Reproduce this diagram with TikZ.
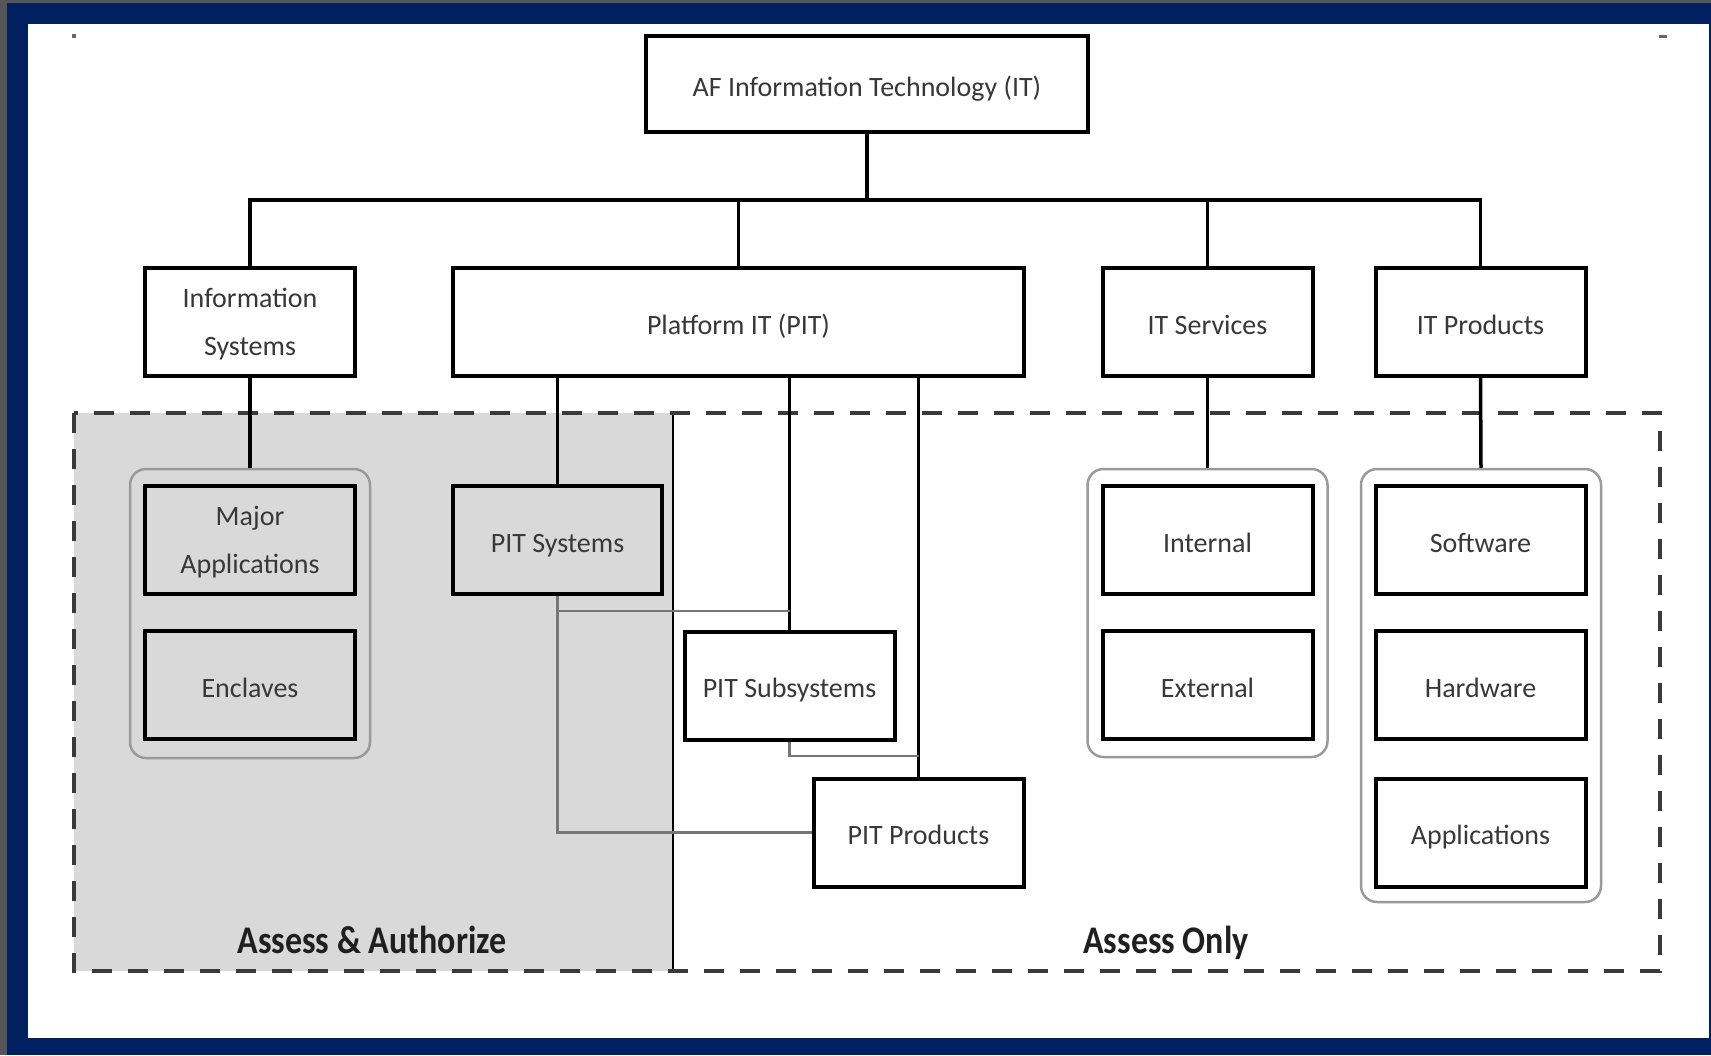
\documentclass[tikz,border=0pt]{standalone}
\usepackage{fontspec}
\setmainfont{Carlito}
\definecolor{navy}{HTML}{002060}
\definecolor{strip}{HTML}{555555}
\definecolor{regiongray}{HTML}{D9D9D9}
\definecolor{txtgray}{HTML}{383838}
\definecolor{thingray}{HTML}{767676}
\definecolor{contgray}{HTML}{9A9A9A}
\definecolor{dashgray}{HTML}{3A3A3A}
\begin{document}
\begin{tikzpicture}[x=1pt,y=-1pt,
  box/.style={draw=black, line width=4pt, minimum width=210pt, minimum height=108pt,
    inner sep=0pt, font=\fontsize{28}{48}\selectfont, text=txtgray, align=center},
  onebox/.style={box, text height=24pt, text depth=0pt},
  twobox/.style={box, yshift=0pt},
  cont/.style={draw=contgray, line width=2.5pt, rounded corners=16pt, minimum width=240pt, inner sep=0pt},
  conn/.style={draw=black, line width=3.5pt},
  thinconn/.style={draw=thingray, line width=2.5pt},
  zonelabel/.style={font=\fontsize{34}{40}\selectfont\bfseries, text=black!88, anchor=base}]
\useasboundingbox (0,0) rectangle (1711,1055);
% frame
\fill[navy] (0,0) rectangle (1711,1055);
\fill[strip] (0,0) rectangle (7,1055);
\fill[strip] (0,0) rectangle (1711,3);
\fill[white] (28,24) rectangle (1709,1038);
\fill[black!60] (72,34) rectangle (76,38);
\fill[black!60] (1659,35) rectangle (1667,38);
% zones
\fill[regiongray] (74,413) rectangle (673,971);
\draw[line width=2.5pt] (673,413) -- (673,971);
\draw[dashgray, line width=4pt, dash pattern=on 20pt off 16pt] (74,413) rectangle (1660,971);
% containers
\node[cont, minimum height=289pt] (contA) at (250,613.5) {};
\node[cont, minimum height=288pt] (contB) at (1207.5,613) {};
\node[cont, minimum height=433pt] (contC) at (1481,685.5) {};
% boxes
\node[onebox, minimum width=442pt, minimum height=96pt] (top) at (867,84) {AF Information Technology (IT)};
\node[box] (infosys) at (250,322) {\rule{0pt}{23pt}Information\\Systems};
\node[onebox, minimum width=571pt] (pit) at (738.5,322) {Platform IT (PIT)};
\node[onebox] (itserv) at (1207.5,322) {IT Services};
\node[onebox] (itprod) at (1480.5,322) {IT Products};
\node[box] (major) at (250,540) {\rule{0pt}{23pt}Major\\Applications};
\node[onebox] (enclaves) at (250,685) {Enclaves};
\node[onebox, minimum width=209pt] (pitsys) at (557.5,540) {PIT Systems};
\node[onebox] (pitsub) at (789.5,685.5) {PIT Subsystems};
\node[onebox] (pitprod) at (918.5,832.5) {PIT Products};
\node[onebox] (internal) at (1207.5,540) {Internal};
\node[onebox] (external) at (1207.5,685) {External};
\node[onebox] (software) at (1480.5,540) {Software};
\node[onebox] (hardware) at (1480.5,685) {Hardware};
\node[onebox] (apps) at (1480.5,832.5) {Applications};
% connectors
\coordinate (bus) at (867,200);
\draw[conn] (top.south) -- (bus);
\draw[conn] (infosys.north) |- (bus) -| (itprod.north);
\draw[conn] (pit.north) -- (pit.north |- bus);
\draw[conn] (itserv.north) -- (itserv.north |- bus);
\draw[conn] (infosys.south) -- (contA.north);
\draw[conn] (itserv.south) -- (contB.north);
\draw[conn] (itprod.south) -- (contC.north);
\draw[conn] (pit.south -| pitsys.north) -- (pitsys.north);
\draw[conn] (pit.south -| pitsub.north) -- (pitsub.north);
\draw[conn] (pit.south -| pitprod.north) -- (pitprod.north);
\draw[thinconn] (pitsys.south) |- (pitprod.west);
\draw[thinconn] (pitsys.south |- 0,611) -- (pitsub.north |- 0,611);
\draw[thinconn] (pitsub.south) |- (pitprod.north |- 0,756);
% zone labels
\node[zonelabel] (aa) at (372,953) {\scalebox{1}[1.15]{Assess \& Authorize}};
\node[zonelabel] (ao) at (1166,953) {\scalebox{1}[1.15]{Assess Only}};
\end{tikzpicture}
\end{document}
